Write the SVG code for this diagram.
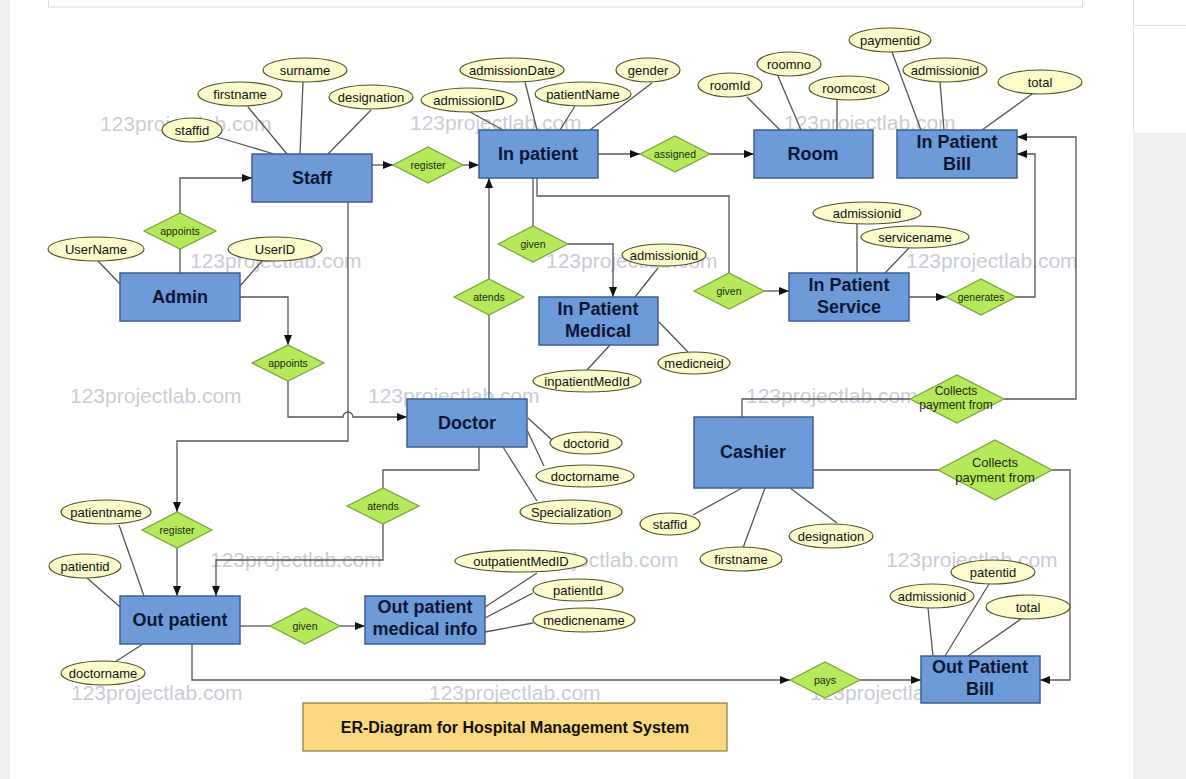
<svg xmlns="http://www.w3.org/2000/svg" width="1186" height="779" viewBox="0 0 1186 779">
<defs>
<style>
.ent{fill:#6d9ad8;stroke:#3f5f8f;stroke-width:1.5}
.et{font-family:"Liberation Sans",Arial,sans-serif;font-weight:bold;font-size:18px;fill:#0d1733;text-anchor:middle}
.rel{fill:#b5e85a;stroke:#7aa33a;stroke-width:1.2}
.rt{font-family:"Liberation Sans",Arial,sans-serif;font-size:10.5px;fill:#1e2a10;text-anchor:middle}
.att{fill:#fbfbcb;stroke:#50502a;stroke-width:1.2}
.at{font-family:"Liberation Sans",Arial,sans-serif;font-size:13px;fill:#111;text-anchor:middle}
.ln{stroke:#555;stroke-width:1.3;fill:none}
.wm{font-family:"Liberation Sans",Arial,sans-serif;font-size:21px;fill:#c9cdd8}
</style>
<marker id="arr" markerUnits="userSpaceOnUse" markerWidth="10" markerHeight="8" refX="10" refY="4" orient="auto">
<path d="M0,0 L10,4 L0,8 z" fill="#111"/>
</marker>
</defs>
<rect x="0" y="0" width="1186" height="779" fill="#ffffff"/>
<rect x="0" y="0" width="10" height="779" fill="#efefef"/>
<rect x="1133" y="133" width="53" height="646" fill="#efefef"/>
<line x1="1133.5" y1="0" x2="1133.5" y2="133" stroke="#e3e3e3"/>
<line x1="1133" y1="25.5" x2="1186" y2="25.5" stroke="#e3e3e3"/>
<rect x="48.5" y="-2" width="1034" height="9" fill="#fff" stroke="#dcdcdc"/>

<g id="watermarks">
<text class="wm" x="100" y="131">123projectlab.com</text>
<text class="wm" x="410" y="130">123projectlab.com</text>
<text class="wm" x="784" y="130">123projectlab.com</text>
<text class="wm" x="190" y="268">123projectlab.com</text>
<text class="wm" x="546" y="268">123projectlab.com</text>
<text class="wm" x="906" y="268">123projectlab.com</text>
<text class="wm" x="70" y="403">123projectlab.com</text>
<text class="wm" x="368" y="403">123projectlab.com</text>
<text class="wm" x="746" y="403">123projectlab.com</text>
<text class="wm" x="210" y="567">123projectlab.com</text>
<text class="wm" x="507" y="567">123projectlab.com</text>
<text class="wm" x="886" y="567">123projectlab.com</text>
<text class="wm" x="71" y="700">123projectlab.com</text>
<text class="wm" x="429" y="700">123projectlab.com</text>
<text class="wm" x="810" y="700">123projectlab.com</text>
</g>

<g id="connectors">
<path class="ln" d="M372,165 H393" marker-end="url(#arr)"/>
<path class="ln" d="M463,165 H479" marker-end="url(#arr)"/>
<path class="ln" d="M598,154 H640" marker-end="url(#arr)"/>
<path class="ln" d="M710,154 H754" marker-end="url(#arr)"/>
<path class="ln" d="M180,213 V178 H252" marker-end="url(#arr)"/>
<path class="ln" d="M180,273 V249"/>
<path class="ln" d="M240,297 H288 V345" marker-end="url(#arr)"/>
<path class="ln" d="M288,381 V417 H343 A5,5 0 0 1 353,417 H407" marker-end="url(#arr)"/>
<path class="ln" d="M348,202 V441 H177 V512" marker-end="url(#arr)"/>
<path class="ln" d="M177,548 V596" marker-end="url(#arr)"/>
<path class="ln" d="M533,178 V226"/>
<path class="ln" d="M568,244 H613 V297" marker-end="url(#arr)"/>
<path class="ln" d="M537,178 V196 H729 V273"/>
<path class="ln" d="M764,291 H789" marker-end="url(#arr)"/>
<path class="ln" d="M489,399 V315"/>
<path class="ln" d="M489,279 V178" marker-end="url(#arr)"/>
<path class="ln" d="M909,297 H946" marker-end="url(#arr)"/>
<path class="ln" d="M1016,297 H1035 V154 H1017" marker-end="url(#arr)"/>
<path class="ln" d="M742,417 V399 H910"/>
<path class="ln" d="M1004,399 H1076 V137 H1017" marker-end="url(#arr)"/>
<path class="ln" d="M813,470 H938"/>
<path class="ln" d="M1052,470 H1070 V680 H1040" marker-end="url(#arr)"/>
<path class="ln" d="M479,447 V470 H383 V488"/>
<path class="ln" d="M383,524 V560 H216 V596" marker-end="url(#arr)"/>
<path class="ln" d="M240,626 H270"/>
<path class="ln" d="M340,626 H365" marker-end="url(#arr)"/>
<path class="ln" d="M192,644 V680 H790" marker-end="url(#arr)"/>
<path class="ln" d="M860,680 H921" marker-end="url(#arr)"/>
<!-- attribute links -->
<path class="ln" d="M217,137 L274,154 M248,107 L287,154 M303,82 L300,154 M371,110 L328,154"/>
<path class="ln" d="M98,261 L120,284 M262,261 L240,286"/>
<path class="ln" d="M470,112 L503,130 M525,82 L537,130 M575,106 L560,130 M652,83 L590,130"/>
<path class="ln" d="M747,97 L780,130 M778,76 L801,130 M837,100 L837,130"/>
<path class="ln" d="M892,52 L921,130 M940,82 L944,130 M1032,94 L982,130"/>
<path class="ln" d="M857,224 L857,273 M909,248 L885,273"/>
<path class="ln" d="M658,268 L635,297 M659,322 L688,352 M610,345 L587,370"/>
<path class="ln" d="M528,418 L552,440 M527,430 L544,466 M503,447 L537,501"/>
<path class="ln" d="M693,515 L742,488 M743,548 L765,488 M837,523 L790,488"/>
<path class="ln" d="M119,525 L144,596 M87,578 L120,607 M115,662 L143,644"/>
<path class="ln" d="M537,573 L485,607 M533,593 L485,618 M533,623 L485,632"/>
<path class="ln" d="M928,608 L933,656 M989,584 L945,656 M1021,619 L968,656"/>
</g>

<g id="staff"><rect class="ent" x="252" y="154" width="120" height="48"/><text class="et" x="312" y="184">Staff</text></g>
<g id="admin"><rect class="ent" x="120" y="273" width="120" height="48"/><text class="et" x="180" y="303">Admin</text></g>
<g id="inpatient"><rect class="ent" x="479" y="130" width="119" height="48"/><text class="et" x="538" y="160">In patient</text></g>
<g id="room"><rect class="ent" x="754" y="130" width="119" height="48"/><text class="et" x="813" y="160">Room</text></g>
<g id="inpatientbill"><rect class="ent" x="897" y="130" width="120" height="48"/><text class="et" x="957" y="148">In Patient</text><text class="et" x="957" y="170">Bill</text></g>
<g id="inpatientmedical"><rect class="ent" x="539" y="297" width="119" height="48"/><text class="et" x="598" y="315">In Patient</text><text class="et" x="598" y="337">Medical</text></g>
<g id="inpatientservice"><rect class="ent" x="789" y="273" width="120" height="48"/><text class="et" x="849" y="291">In Patient</text><text class="et" x="849" y="313">Service</text></g>
<g id="doctor"><rect class="ent" x="407" y="399" width="120" height="48"/><text class="et" x="467" y="429">Doctor</text></g>
<g id="cashier"><rect class="ent" x="694" y="417" width="119" height="71"/><text class="et" x="753" y="458">Cashier</text></g>
<g id="outpatient"><rect class="ent" x="120" y="596" width="120" height="48"/><text class="et" x="180" y="626">Out patient</text></g>
<g id="outpatientmedinfo"><rect class="ent" x="365" y="596" width="120" height="48"/><text class="et" x="425" y="613">Out patient</text><text class="et" x="425" y="635">medical info</text></g>
<g id="outpatientbill"><rect class="ent" x="921" y="656" width="119" height="47"/><text class="et" x="980" y="673">Out Patient</text><text class="et" x="980" y="695">Bill</text></g>

<g id="rel-register1"><polygon class="rel" points="393,165 428,147 463,165 428,183"/><text class="rt" x="428" y="169">register</text></g>
<g id="rel-assigned"><polygon class="rel" points="640,154 675,136 710,154 675,172"/><text class="rt" x="675" y="158">assigned</text></g>
<g id="rel-appoints1"><polygon class="rel" points="144,231 180,213 216,231 180,249"/><text class="rt" x="180" y="235">appoints</text></g>
<g id="rel-appoints2"><polygon class="rel" points="252,363 288,345 324,363 288,381"/><text class="rt" x="288" y="367">appoints</text></g>
<g id="rel-given1"><polygon class="rel" points="498,244 533,226 568,244 533,262"/><text class="rt" x="533" y="248">given</text></g>
<g id="rel-atends1"><polygon class="rel" points="454,297 489,279 524,297 489,315"/><text class="rt" x="489" y="301">atends</text></g>
<g id="rel-given2"><polygon class="rel" points="694,291 729,273 764,291 729,309"/><text class="rt" x="729" y="295">given</text></g>
<g id="rel-generates"><polygon class="rel" points="946,297 981,279 1016,297 981,315"/><text class="rt" x="981" y="301">generates</text></g>
<g id="rel-collects1"><polygon class="rel" points="910,399 957,375 1004,399 957,423"/><text class="rt" x="956" y="395" style="font-size:12px">Collects</text><text class="rt" x="956" y="409" style="font-size:12px">payment from</text></g>
<g id="rel-collects2"><polygon class="rel" points="938,470 995,440 1052,470 995,500"/><text class="rt" x="995" y="467" style="font-size:13px">Collects</text><text class="rt" x="995" y="482" style="font-size:13px">payment from</text></g>
<g id="rel-register2"><polygon class="rel" points="142,530 177,512 212,530 177,548"/><text class="rt" x="177" y="534">register</text></g>
<g id="rel-atends2"><polygon class="rel" points="347,506 383,488 419,506 383,524"/><text class="rt" x="383" y="510">atends</text></g>
<g id="rel-given3"><polygon class="rel" points="270,626 305,608 340,626 305,644"/><text class="rt" x="305" y="630">given</text></g>
<g id="rel-pays"><polygon class="rel" points="790,680 825,662 860,680 825,698"/><text class="rt" x="825" y="684">pays</text></g>

<g id="attr-staff-surname"><ellipse class="att" cx="305" cy="70" rx="42" ry="12"/><text class="at" x="305" y="75">surname</text></g>
<g id="attr-staff-firstname"><ellipse class="att" cx="240" cy="94" rx="42" ry="12"/><text class="at" x="240" y="99">firstname</text></g>
<g id="attr-staff-designation"><ellipse class="att" cx="371" cy="97" rx="42" ry="12"/><text class="at" x="371" y="102">designation</text></g>
<g id="attr-staff-staffid"><ellipse class="att" cx="192" cy="130" rx="30" ry="12"/><text class="at" x="192" y="135">staffid</text></g>
<g id="attr-admin-username"><ellipse class="att" cx="96" cy="249" rx="48" ry="12"/><text class="at" x="96" y="254">UserName</text></g>
<g id="attr-admin-userid"><ellipse class="att" cx="275" cy="249" rx="47" ry="12"/><text class="at" x="275" y="254">UserID</text></g>
<g id="attr-ip-admissiondate"><ellipse class="att" cx="512" cy="70" rx="52" ry="12"/><text class="at" x="512" y="75">admissionDate</text></g>
<g id="attr-ip-gender"><ellipse class="att" cx="648" cy="70" rx="32" ry="12"/><text class="at" x="648" y="75">gender</text></g>
<g id="attr-ip-admissionid"><ellipse class="att" cx="469" cy="100" rx="48" ry="12"/><text class="at" x="469" y="105">admissionID</text></g>
<g id="attr-ip-patientname"><ellipse class="att" cx="583" cy="94" rx="48" ry="12"/><text class="at" x="583" y="99">patientName</text></g>
<g id="attr-room-roomid"><ellipse class="att" cx="730" cy="85" rx="32" ry="12"/><text class="at" x="730" y="90">roomId</text></g>
<g id="attr-room-roomno"><ellipse class="att" cx="789" cy="64" rx="32" ry="12"/><text class="at" x="789" y="69">roomno</text></g>
<g id="attr-room-roomcost"><ellipse class="att" cx="849" cy="88" rx="40" ry="12"/><text class="at" x="849" y="93">roomcost</text></g>
<g id="attr-ipb-paymentid"><ellipse class="att" cx="890" cy="40" rx="41" ry="12"/><text class="at" x="890" y="45">paymentid</text></g>
<g id="attr-ipb-admissionid"><ellipse class="att" cx="945" cy="70" rx="42" ry="12"/><text class="at" x="945" y="75">admissionid</text></g>
<g id="attr-ipb-total"><ellipse class="att" cx="1040" cy="82" rx="42" ry="12"/><text class="at" x="1040" y="87">total</text></g>
<g id="attr-ips-admissionid"><ellipse class="att" cx="867" cy="213" rx="54" ry="11"/><text class="at" x="867" y="218">admissionid</text></g>
<g id="attr-ips-servicename"><ellipse class="att" cx="915" cy="237" rx="54" ry="11"/><text class="at" x="915" y="242">servicename</text></g>
<g id="attr-ipm-admissionid"><ellipse class="att" cx="664" cy="255" rx="42" ry="11"/><text class="at" x="664" y="260">admissionid</text></g>
<g id="attr-ipm-medicneid"><ellipse class="att" cx="694" cy="363" rx="36" ry="11"/><text class="at" x="694" y="368">medicneid</text></g>
<g id="attr-ipm-inpatientmedid"><ellipse class="att" cx="587" cy="381" rx="54" ry="11"/><text class="at" x="587" y="386">inpatientMedId</text></g>
<g id="attr-doc-doctorid"><ellipse class="att" cx="586" cy="443" rx="36" ry="11"/><text class="at" x="586" y="448">doctorid</text></g>
<g id="attr-doc-doctorname"><ellipse class="att" cx="585" cy="476" rx="49" ry="11"/><text class="at" x="585" y="481">doctorname</text></g>
<g id="attr-doc-specialization"><ellipse class="att" cx="571" cy="512" rx="51" ry="12"/><text class="at" x="571" y="517">Specialization</text></g>
<g id="attr-cash-staffid"><ellipse class="att" cx="670" cy="524" rx="30" ry="11"/><text class="at" x="670" y="529">staffid</text></g>
<g id="attr-cash-firstname"><ellipse class="att" cx="741" cy="559" rx="41" ry="12"/><text class="at" x="741" y="564">firstname</text></g>
<g id="attr-cash-designation"><ellipse class="att" cx="831" cy="536" rx="42" ry="12"/><text class="at" x="831" y="541">designation</text></g>
<g id="attr-op-patientname"><ellipse class="att" cx="106" cy="512" rx="45" ry="12"/><text class="at" x="106" y="517">patientname</text></g>
<g id="attr-op-patientid"><ellipse class="att" cx="85" cy="566" rx="36" ry="12"/><text class="at" x="85" y="571">patientid</text></g>
<g id="attr-op-doctorname"><ellipse class="att" cx="103" cy="673" rx="42" ry="12"/><text class="at" x="103" y="678">doctorname</text></g>
<g id="attr-opm-outpatientmedid"><ellipse class="att" cx="521" cy="561" rx="66" ry="11"/><text class="at" x="521" y="566">outpatientMedID</text></g>
<g id="attr-opm-patientid"><ellipse class="att" cx="578" cy="590" rx="45" ry="11"/><text class="at" x="578" y="595">patientId</text></g>
<g id="attr-opm-medicnename"><ellipse class="att" cx="584" cy="620" rx="51" ry="12"/><text class="at" x="584" y="625">medicnename</text></g>
<g id="attr-opb-patentid"><ellipse class="att" cx="993" cy="572" rx="42" ry="12"/><text class="at" x="993" y="577">patentid</text></g>
<g id="attr-opb-admissionid"><ellipse class="att" cx="932" cy="596" rx="42" ry="12"/><text class="at" x="932" y="601">admissionid</text></g>
<g id="attr-opb-total"><ellipse class="att" cx="1028" cy="607" rx="42" ry="12"/><text class="at" x="1028" y="612">total</text></g>

<g id="title"><rect x="303" y="703" width="424" height="48" fill="#fcd880" stroke="#8c7a42" stroke-width="1.2"/><text x="515" y="733" style="font-family:'Liberation Sans',Arial,sans-serif;font-weight:bold;font-size:16px;fill:#111;text-anchor:middle">ER-Diagram for Hospital Management System</text></g>
</svg>
